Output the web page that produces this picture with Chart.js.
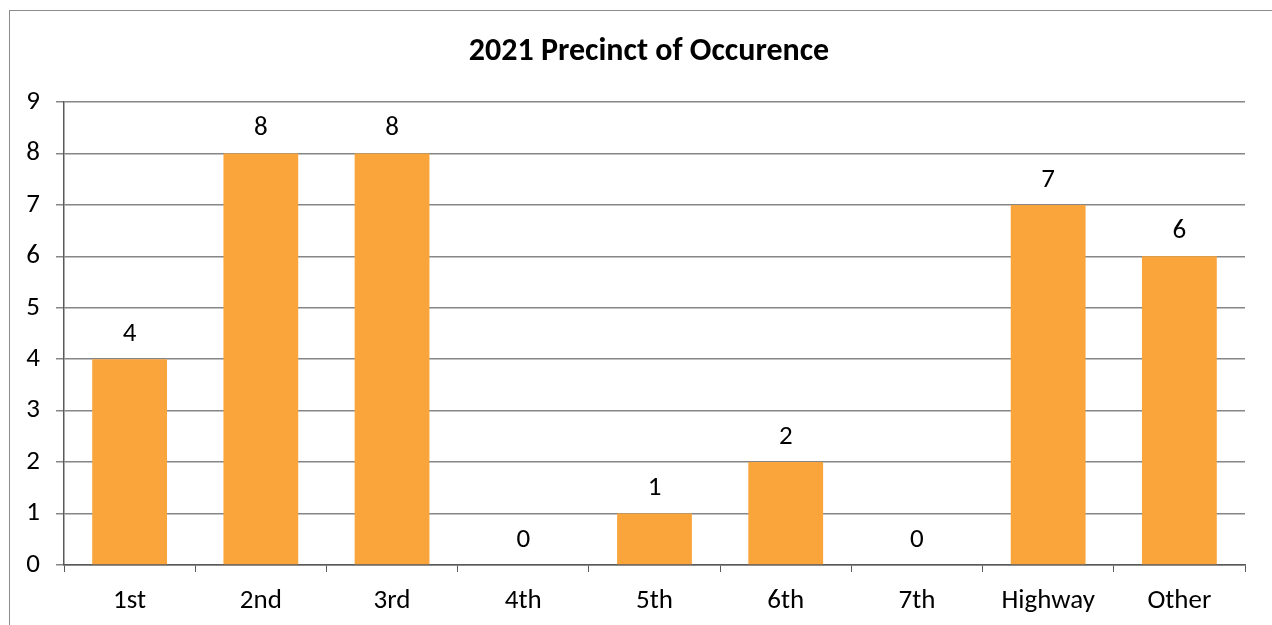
<!DOCTYPE html>
<html lang="en">
<head>
<meta charset="UTF-8">
<title>2021 Precinct of Occurence</title>
<script src="https://cdn.jsdelivr.net/npm/chart.js"></script>
<style>
    body { margin: 0; background: #fff; }
    #wrap { width: 1272px; height: 625px; position: relative; }
</style>
</head>
<body>
<div id="wrap"><canvas id="myChart"></canvas></div>
<script>
    const precincts = ['1st', '2nd', '3rd', '4th', '5th', '6th', '7th', 'Highway', 'Other'];
    const counts = [4, 8, 8, 0, 1, 2, 0, 7, 6];
    const yTicks = [0, 1, 2, 3, 4, 5, 6, 7, 8, 9];
    const chartTitle = '2021 Precinct of Occurence';

    const fontFamily = 'Carlito, Lato, "Liberation Sans", sans-serif';

    // frame round the chart and the title, like the spreadsheet chart
    const frame = {
        id: 'frame',
        beforeDraw(chart) {
            const ctx = chart.ctx;
            ctx.save();
            ctx.strokeStyle = '#8c8c8c';
            ctx.lineWidth = 1;
            ctx.strokeRect(9.5, 10.5, 1290, 640);
            ctx.font = 'bold 32px ' + fontFamily;
            ctx.fillStyle = '#000';
            ctx.textAlign = 'center';
            ctx.textBaseline = 'middle';
            ctx.fillText(chartTitle, 649, 52);
            ctx.restore();
        }
    };

    // value labels above each bar
    const valueLabels = {
        id: 'valueLabels',
        afterDatasetsDraw(chart) {
            const ctx = chart.ctx;
            const meta = chart.getDatasetMeta(0);
            ctx.save();
            ctx.font = '27px ' + fontFamily;
            ctx.fillStyle = '#000';
            ctx.textAlign = 'center';
            ctx.textBaseline = 'middle';
            meta.data.forEach((bar, i) => {
                ctx.fillText(counts[i], bar.x, bar.y - 25);
            });
            ctx.restore();
        }
    };

    const ctx = document.getElementById('myChart').getContext('2d');
    new Chart(ctx, {
        type: 'bar',
        data: {
            labels: precincts,
            datasets: [{
                data: counts,
                backgroundColor: '#F9A53C',
                borderWidth: 0,
                barPercentage: 0.57,
                categoryPercentage: 1
            }]
        },
        options: {
            responsive: true,
            maintainAspectRatio: false,
            animation: false,
            layout: { padding: { left: 9, right: 27, top: 102, bottom: 0 } },
            plugins: {
                legend: { display: false },
                tooltip: { enabled: false },
                title: { display: false }
            },
            scales: {
                x: {
                    grid: {
                        offset: true,
                        drawOnChartArea: false,
                        tickLength: 7,
                        color: '#595959'
                    },
                    border: { display: true, color: '#595959', width: 1.5 },
                    ticks: {
                        color: '#000',
                        padding: 13,
                        font: { family: fontFamily, size: 27 }
                    },
                    afterFit(scale) { scale.height = 60; }
                },
                y: {
                    min: 0,
                    max: 9,
                    afterBuildTicks(scale) {
                        scale.ticks = yTicks.map(v => ({ value: v }));
                    },
                    grid: {
                        color: '#868686',
                        lineWidth: 1.5,
                        tickLength: 8
                    },
                    border: { display: true, color: '#595959', width: 1.5 },
                    ticks: {
                        color: '#000',
                        padding: 16,
                        font: { family: fontFamily, size: 27 }
                    },
                    afterFit(scale) { scale.width = 55; }
                }
            }
        },
        plugins: [frame, valueLabels]
    });
</script>
</body>
</html>
